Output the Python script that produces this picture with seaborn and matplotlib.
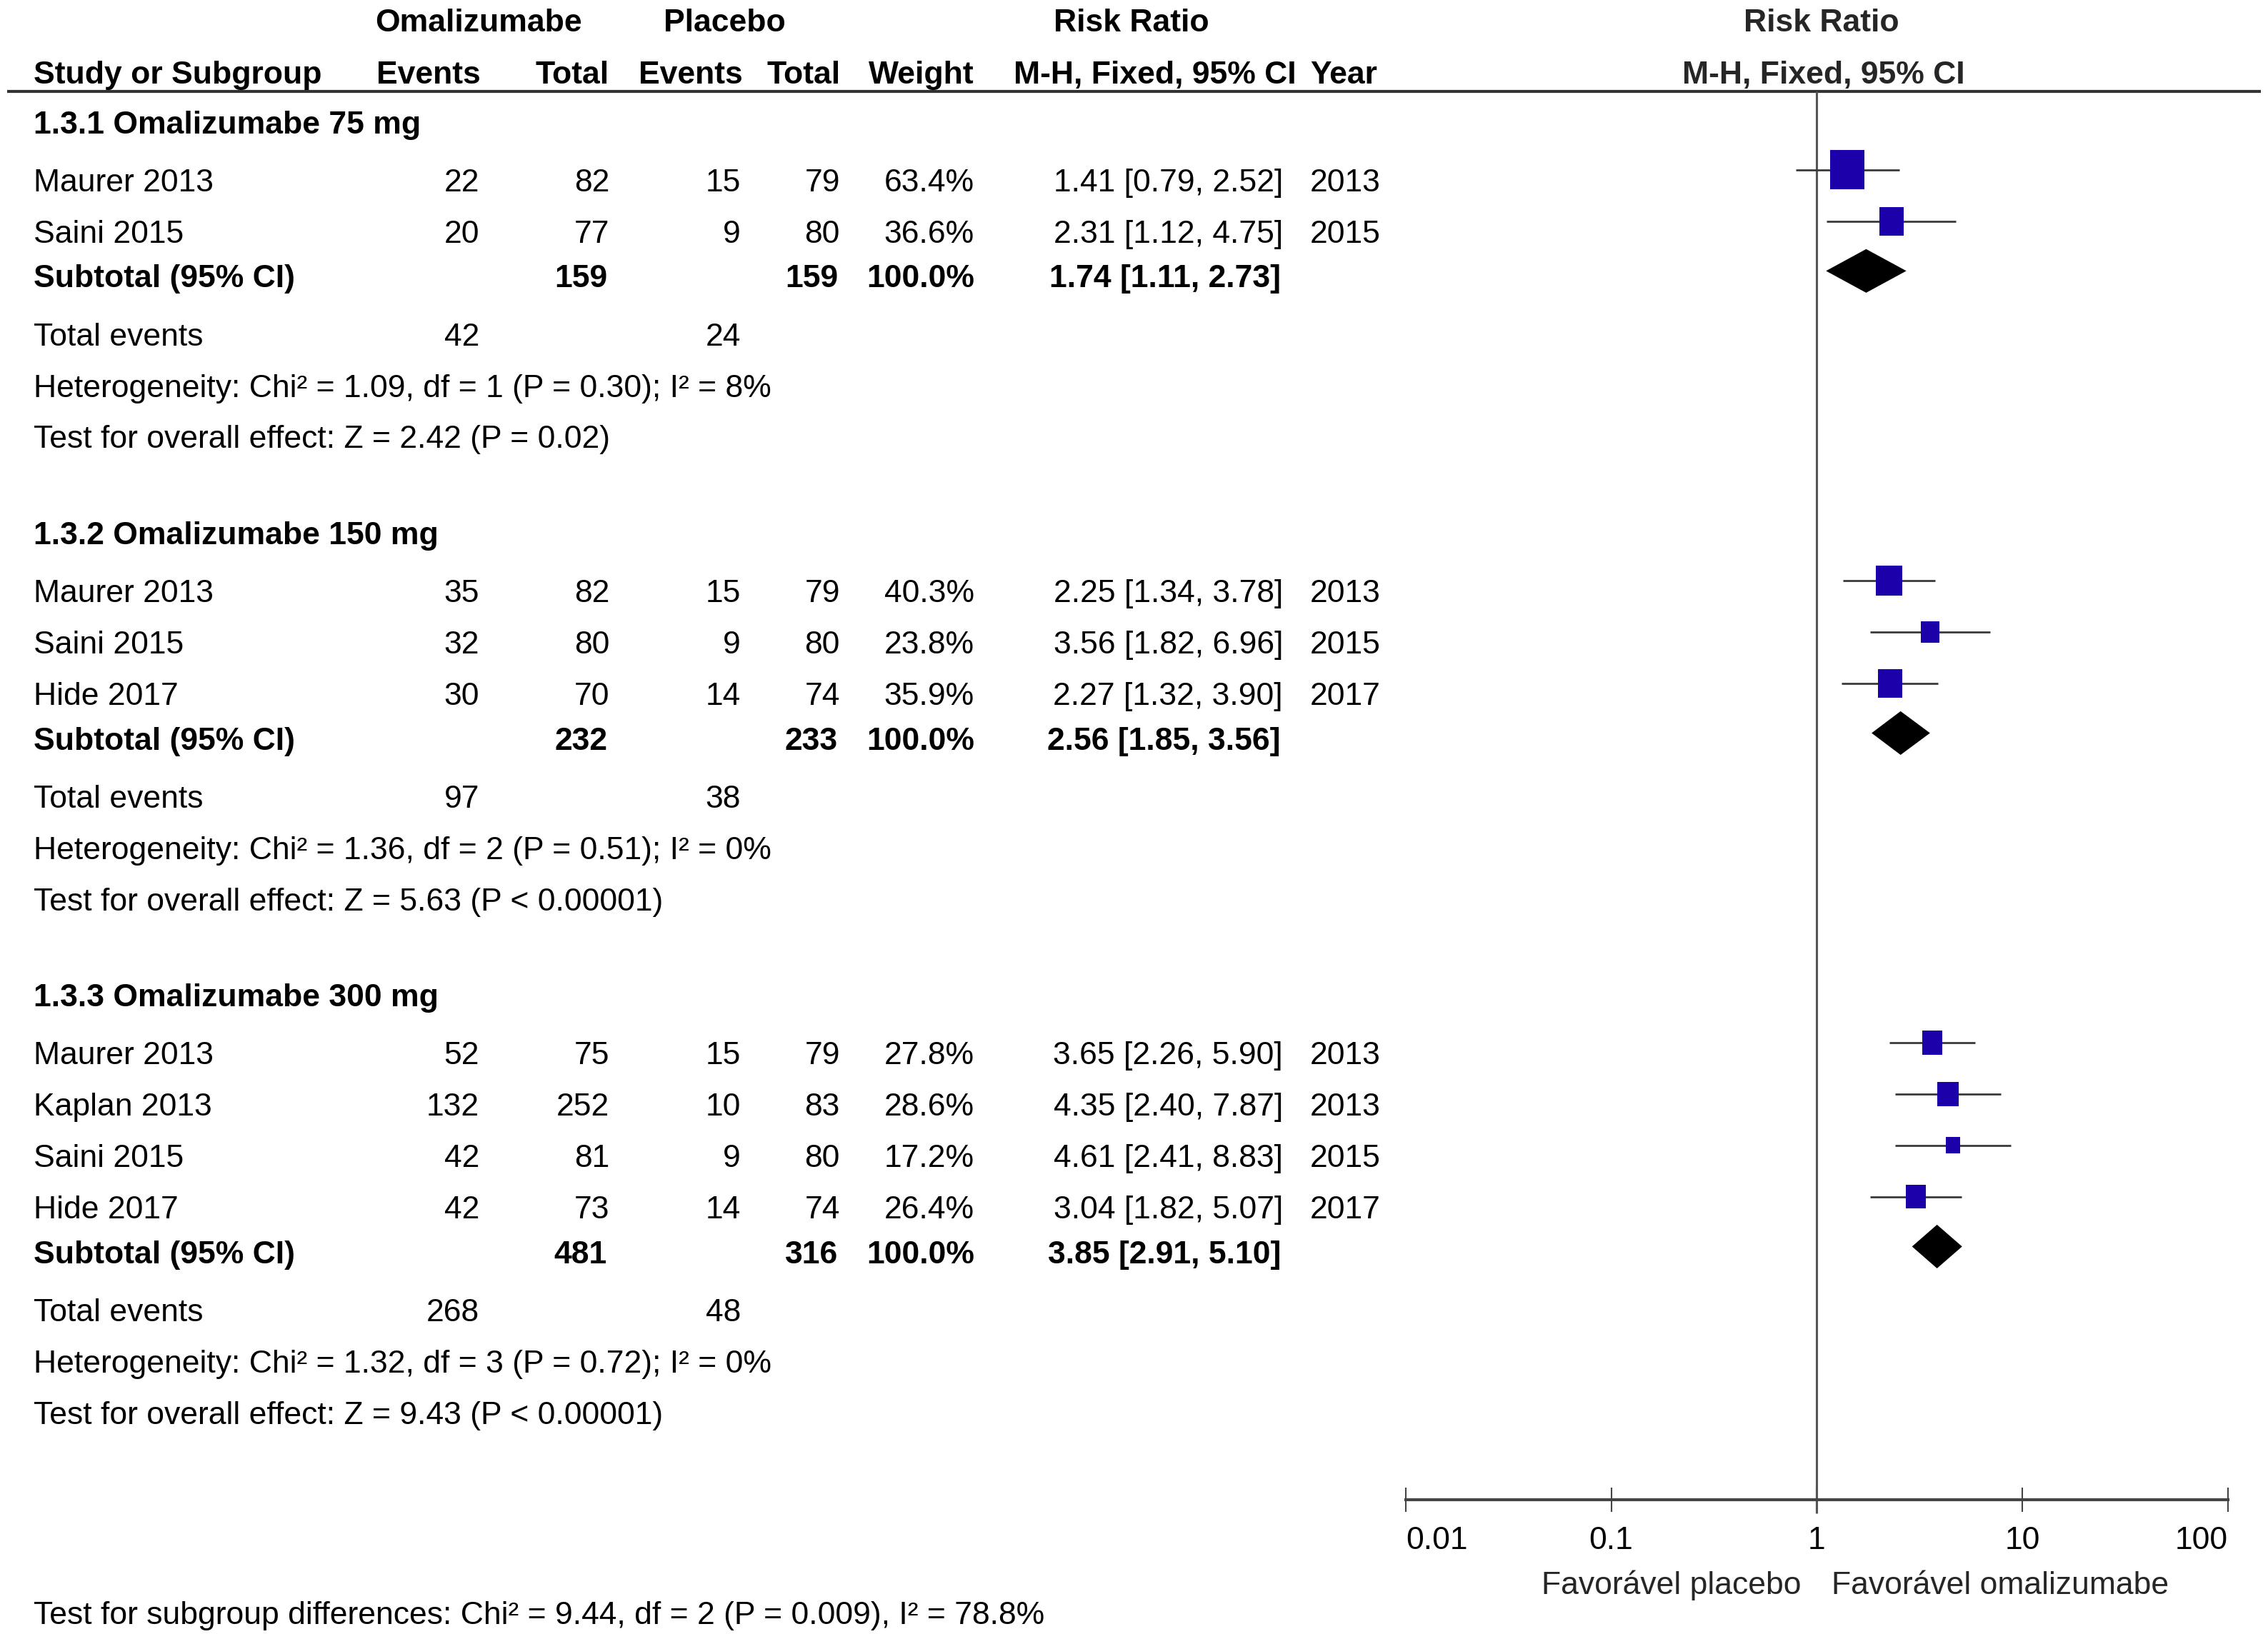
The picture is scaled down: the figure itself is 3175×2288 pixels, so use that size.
import numpy as np
import pandas as pd
import seaborn as sns
import matplotlib.pyplot as plt
from matplotlib.markers import MarkerStyle
from matplotlib.ticker import NullLocator

# Data
groups = ['1.3.1 Omalizumabe 75 mg', '1.3.2 Omalizumabe 150 mg', '1.3.3 Omalizumabe 300 mg']
study_group = [0, 0, 1, 1, 1, 2, 2, 2, 2]
study_names = ['Maurer 2013', 'Saini 2015', 'Maurer 2013', 'Saini 2015', 'Hide 2017',
               'Maurer 2013', 'Kaplan 2013', 'Saini 2015', 'Hide 2017']
omal_events = [22, 20, 35, 32, 30, 52, 132, 42, 42]
omal_total = [82, 77, 82, 80, 70, 75, 252, 81, 73]
plac_events = [15, 9, 15, 9, 14, 15, 10, 9, 14]
plac_total = [79, 80, 79, 80, 74, 79, 83, 80, 74]
weights = [63.4, 36.6, 40.3, 23.8, 35.9, 27.8, 28.6, 17.2, 26.4]
rr = [1.41, 2.31, 2.25, 3.56, 2.27, 3.65, 4.35, 4.61, 3.04]
rr_low = [0.79, 1.12, 1.34, 1.82, 1.32, 2.26, 2.40, 2.41, 1.82]
rr_high = [2.52, 4.75, 3.78, 6.96, 3.90, 5.90, 7.87, 8.83, 5.07]
years = [2013, 2015, 2013, 2015, 2017, 2013, 2013, 2015, 2017]

sub_omal_total = [159, 232, 481]
sub_plac_total = [159, 233, 316]
sub_rr = [1.74, 2.56, 3.85]
sub_low = [1.11, 1.85, 2.91]
sub_high = [2.73, 3.56, 5.10]
sub_omal_events = [42, 97, 268]
sub_plac_events = [24, 38, 48]
het_text = ['Heterogeneity: Chi² = 1.09, df = 1 (P = 0.30); I² = 8%',
            'Heterogeneity: Chi² = 1.36, df = 2 (P = 0.51); I² = 0%',
            'Heterogeneity: Chi² = 1.32, df = 3 (P = 0.72); I² = 0%']
overall_text = ['Test for overall effect: Z = 2.42 (P = 0.02)',
                'Test for overall effect: Z = 5.63 (P < 0.00001)',
                'Test for overall effect: Z = 9.43 (P < 0.00001)']
subgroup_text = 'Test for subgroup differences: Chi² = 9.44, df = 2 (P = 0.009), I² = 78.8%'
ticks = [0.01, 0.1, 1, 10, 100]
tick_labels = ['0.01', '0.1', '1', '10', '100']

sns.set_theme(style='white')
plt.rcParams['font.family'] = ['Liberation Sans', 'DejaVu Sans']
FS = 32
CAP = 0.221      # half cap height, in row units
SHIFT = -0.13    # headings / subtotals sit a bit higher

W, H = 3175, 2288
fig = plt.figure(figsize=(W / 100, H / 100), dpi=100, facecolor='white')
ylims = (29.316, -2.506)

tab = fig.add_axes([0, 0, 1, 1])
tab.set_xlim(0, W)
tab.set_ylim(*ylims)
tab.axis('off')

fx = fig.add_axes([1968 / W, 0, 1150.5 / W, 1])
fx.set_xscale('log')
fx.set_xlim(0.01, 100)
fx.set_ylim(*ylims)
fx.patch.set_alpha(0)


def put(x, row, s, ha='left', bold=False, ax=None):
    (ax or tab).text(x, row + CAP, s, ha=ha, va='baseline', fontsize=FS,
                     fontweight='bold' if bold else 'normal', color='black')


def put_fx(row, s, dx):
    # forest-side header, centred on RR = 1 with a small nudge
    fx.annotate(s, xy=(1, row + CAP), xytext=(dx, 0), textcoords='offset points',
                ha='center', va='baseline', fontsize=FS, fontweight='bold')


# column x positions (pixels)
X_NAME, X_OE, X_OT, X_PE, X_PT, X_W, X_RR, X_YR = 47, 671, 853, 1037, 1176, 1364, 1796, 1834

# header
put(670, -2.11, 'Omalizumabe', 'center', True)
put(1014, -2.11, 'Placebo', 'center', True)
put(1584, -2.11, 'Risk Ratio', 'center', True)
put_fx(-2.11, 'Risk Ratio', 4.5)
put(X_NAME, -1.10, 'Study or Subgroup', bold=True)
put(673, -1.10, 'Events', 'right', True)
put(X_OT, -1.10, 'Total', 'right', True)
put(1040, -1.10, 'Events', 'right', True)
put(1177, -1.10, 'Total', 'right', True)
put(X_W, -1.10, 'Weight', 'right', True)
put(1815, -1.10, 'M-H, Fixed, 95% CI', 'right', True)
put(X_YR, -1.10, 'Year', bold=True)
put_fx(-1.10, 'M-H, Fixed, 95% CI', 7)
tab.hlines(-0.73, 10, 3165, color='#333333', lw=3)

# layout rows
study_rows = np.zeros(len(study_names))
sub_rows = []
r = 0
for g, gname in enumerate(groups):
    put(X_NAME, r + SHIFT, gname, bold=True)
    r += 1
    for i in range(len(study_names)):
        if study_group[i] != g:
            continue
        study_rows[i] = r
        put(X_NAME, r, study_names[i])
        put(X_OE, r, str(omal_events[i]), 'right')
        put(X_OT, r, str(omal_total[i]), 'right')
        put(X_PE, r, str(plac_events[i]), 'right')
        put(X_PT, r, str(plac_total[i]), 'right')
        put(X_W, r, f'{weights[i]:.1f}%', 'right')
        put(X_RR, r, f'{rr[i]:.2f} [{rr_low[i]:.2f}, {rr_high[i]:.2f}]', 'right')
        put(X_YR, r, str(years[i]))
        r += 1
    sub_rows.append(r)
    put(X_NAME, r + SHIFT, 'Subtotal (95% CI)', bold=True)
    put(X_OT - 3, r + SHIFT, str(sub_omal_total[g]), 'right', True)
    put(X_PT - 3, r + SHIFT, str(sub_plac_total[g]), 'right', True)
    put(X_W, r + SHIFT, '100.0%', 'right', True)
    put(X_RR - 3, r + SHIFT, f'{sub_rr[g]:.2f} [{sub_low[g]:.2f}, {sub_high[g]:.2f}]', 'right', True)
    r += 1
    put(X_NAME, r, 'Total events')
    put(X_OE, r, str(sub_omal_events[g]), 'right')
    put(X_PE, r, str(sub_plac_events[g]), 'right')
    r += 1
    put(X_NAME, r, het_text[g])
    r += 1
    put(X_NAME, r, overall_text[g])
    r += 2

put(X_NAME, 28.90, subgroup_text)

# forest: reference line, CIs, squares, diamonds
AXIS_ROW = 26.70
fx.vlines(1, -0.73, 26.96, color='#555555', lw=2.2, zorder=1)

df = pd.DataFrame({'rr': rr, 'row': study_rows - 0.2, 'weight': weights})
fx.hlines(df['row'], rr_low, rr_high, color='#3a3a3a', lw=2, zorder=2)
box = MarkerStyle([(-0.43, -0.5), (0.43, -0.5), (0.43, 0.5), (-0.43, 0.5)])
sns.scatterplot(data=df, x='rr', y='row', size='weight', sizes=(282, 1600),
                size_norm=(17.2, 63.4), marker=box, color='#1c00aa',
                edgecolor='none', legend=False, ax=fx, zorder=3)
fx.set_xlabel('')
fx.set_ylabel('')
fx.set_ylim(*ylims)
for g in range(len(groups)):
    yc = sub_rows[g] - 0.23
    fx.fill([sub_low[g], sub_rr[g], sub_high[g], sub_rr[g]],
            [yc, yc - 0.425, yc, yc + 0.425], color='black', lw=0, zorder=3)

# x axis
for side in ['top', 'left', 'right']:
    fx.spines[side].set_visible(False)
fx.spines['bottom'].set_position(('data', AXIS_ROW))
fx.spines['bottom'].set_color('#444444')
fx.spines['bottom'].set_linewidth(3)
fx.set_xticks(ticks)
fx.set_xticklabels(tick_labels)
fx.xaxis.set_minor_locator(NullLocator())
fx.set_yticks([])
fx.tick_params(axis='x', direction='inout', length=24.5, width=1.5, color='#444444',
               pad=14.4, labelsize=FS, labelcolor='black', bottom=True)
labs = fx.get_xticklabels()
labs[0].set_ha('left')
labs[-1].set_ha('right')
fx.grid(False)

fx.annotate('Favorável placebo', xy=(1, 28.31 + CAP), xytext=(-16, 0),
            textcoords='offset points', ha='right', va='baseline', fontsize=FS)
fx.annotate('Favorável omalizumabe', xy=(1, 28.31 + CAP), xytext=(15, 0),
            textcoords='offset points', ha='left', va='baseline', fontsize=FS)

fig.savefig('out.png', dpi=100, facecolor='white')
